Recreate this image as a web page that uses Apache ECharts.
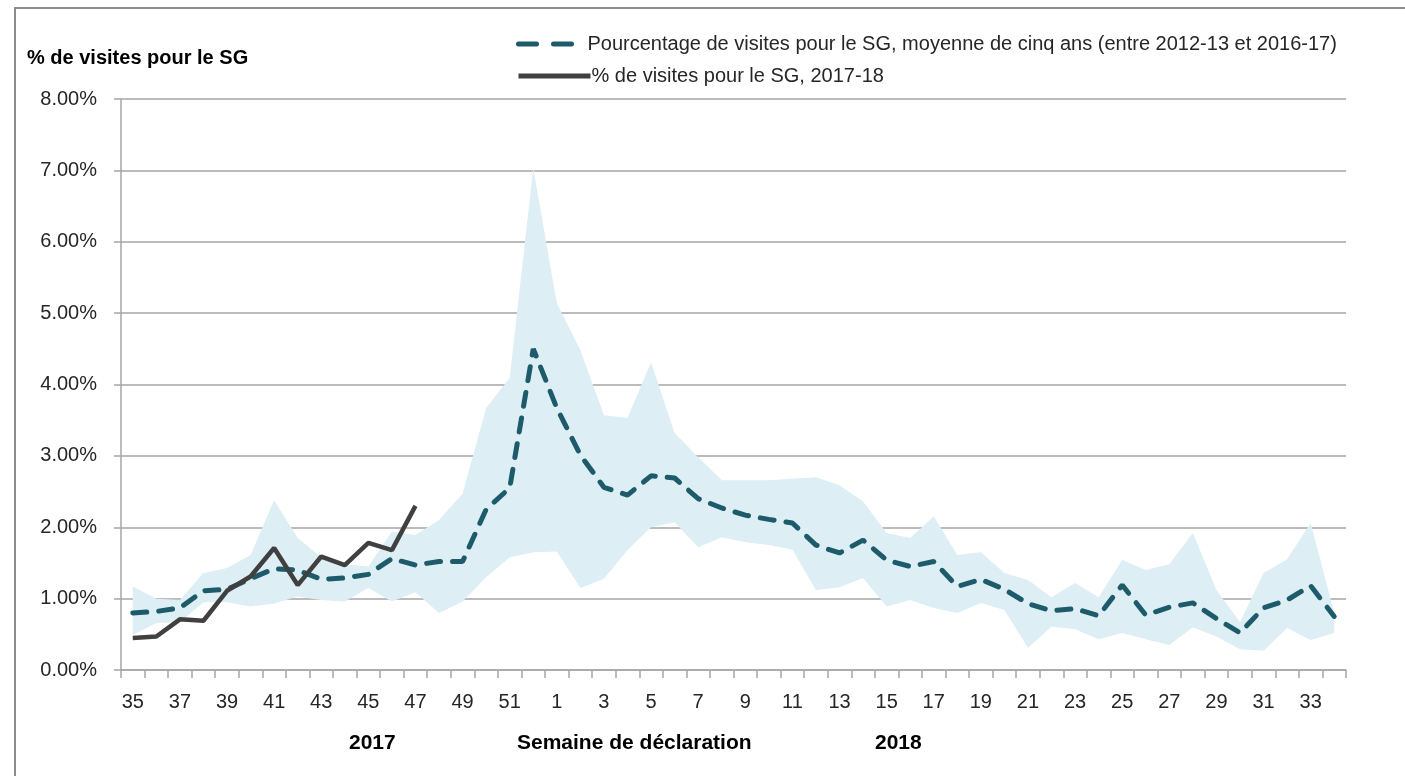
<!DOCTYPE html>
<html>
<head>
<meta charset="utf-8">
<script src="https://cdn.jsdelivr.net/npm/echarts@6/dist/echarts.min.js"></script>
<style>
html,body{margin:0;padding:0;background:#fff;}
#chart{width:1405px;height:776px;}
</style>
</head>
<body>
<div id="chart"></div>
<script>
const weeks = ['35','36','37','38','39','40','41','42','43','44','45','46','47','48','49','50','51','52',
  '1','2','3','4','5','6','7','8','9','10','11','12','13','14','15','16','17','18','19','20','21','22','23','24','25','26','27','28','29','30','31','32','33','34'];

const avg5 = [0.80,0.82,0.87,1.11,1.13,1.28,1.42,1.40,1.27,1.29,1.34,1.56,1.47,1.52,1.52,2.25,2.55,4.50,
  3.67,3.01,2.56,2.45,2.72,2.69,2.40,2.27,2.17,2.11,2.06,1.75,1.64,1.82,1.54,1.45,1.52,1.17,1.27,1.13,0.93,0.83,0.86,0.76,1.19,0.77,0.88,0.94,0.72,0.52,0.87,0.98,1.18,0.75];

const bandHigh = [1.17,1.00,0.98,1.36,1.43,1.61,2.38,1.85,1.58,1.48,1.45,1.94,1.89,2.10,2.47,3.67,4.09,7.03,
  5.14,4.48,3.57,3.53,4.31,3.32,2.98,2.66,2.66,2.66,2.68,2.70,2.59,2.36,1.92,1.85,2.15,1.61,1.65,1.36,1.26,1.02,1.22,1.02,1.54,1.40,1.48,1.92,1.12,0.67,1.36,1.55,2.06,0.80];

const bandLow = [0.49,0.66,0.67,0.95,0.95,0.89,0.93,1.03,0.98,0.96,1.15,0.96,1.09,0.80,0.96,1.30,1.58,1.65,
  1.66,1.15,1.28,1.68,2.00,2.07,1.72,1.86,1.79,1.75,1.69,1.12,1.16,1.29,0.89,0.98,0.87,0.80,0.94,0.84,0.31,0.61,0.57,0.43,0.52,0.43,0.35,0.60,0.47,0.29,0.27,0.59,0.42,0.52];

const cur = [0.45,0.47,0.71,0.69,1.11,1.31,1.71,1.19,1.59,1.47,1.78,1.68,2.30];

const yTicks = [0,1,2,3,4,5,6,7,8];

const nameAvg = 'Pourcentage de visites pour le SG, moyenne de cinq ans (entre 2012-13 et 2016-17)';
const nameCur = '% de visites pour le SG, 2017-18';

const FONT = '"Liberation Sans", Arial, sans-serif';
const bandDiff = bandHigh.map((v,i)=> +(v - bandLow[i]).toFixed(2));

const chart = echarts.init(document.getElementById('chart'));
chart.setOption({
  animation:false,
  backgroundColor:'#fff',
  textStyle:{fontFamily:FONT},
  grid:{left:121, right:59, top:99, bottom:106},
  legend:[
    {data:[{name:nameAvg}], left:511, top:29, itemWidth:58, itemHeight:20, itemGap:17,
     itemStyle:{opacity:0}, lineStyle:{type:[18,17], width:5, cap:'round'},
     textStyle:{fontSize:20, color:'#262626', fontFamily:FONT, padding:[0,0,0,6]}},
    {data:[{name:nameCur}], left:511, top:61, itemWidth:72, itemHeight:20, itemGap:2,
     itemStyle:{opacity:0}, lineStyle:{width:5},
     textStyle:{fontSize:20, color:'#262626', fontFamily:FONT, padding:[0,0,0,-4]}}
  ],
  graphic:[
    {type:'rect', shape:{x:15, y:8, width:1400, height:800}, style:{fill:'none', stroke:'#8c8c8c', lineWidth:2}, silent:true},
    {type:'text', left:27, top:48, style:{text:'% de visites pour le SG', font:'bold 20px '+FONT, fill:'#000'}},
    {type:'text', left:349, top:733, style:{text:'2017', font:'bold 21px '+FONT, fill:'#000'}},
    {type:'text', left:517, top:733, style:{text:'Semaine de déclaration', font:'bold 21px '+FONT, fill:'#000'}},
    {type:'text', left:875, top:733, style:{text:'2018', font:'bold 21px '+FONT, fill:'#000'}}
  ],
  xAxis:{
    type:'category', data:weeks, boundaryGap:true,
    axisLine:{lineStyle:{color:'#a6a6a6', width:1.5}},
    axisTick:{show:true, interval:0, length:8, lineStyle:{color:'#a6a6a6', width:1.5}},
    axisLabel:{interval:1, fontSize:20, color:'#262626', margin:22, fontFamily:FONT}
  },
  yAxis:{
    type:'value', min:yTicks[0], max:yTicks[yTicks.length-1], interval:1,
    axisLine:{show:true, lineStyle:{color:'#a6a6a6', width:1.5}},
    axisTick:{show:true, length:7, lineStyle:{color:'#a6a6a6', width:1.5}},
    splitLine:{show:true, lineStyle:{color:'#a6a6a6', width:1.5}},
    axisLabel:{fontSize:20, color:'#262626', margin:24, formatter:v=>v.toFixed(2)+'%', fontFamily:FONT}
  },
  series:[
    {name:'bandLow', type:'line', stack:'band', data:bandLow, symbol:'none', lineStyle:{opacity:0}, silent:true, z:1},
    {name:'bandRange', type:'line', stack:'band', data:bandDiff, symbol:'none', lineStyle:{opacity:0},
     areaStyle:{color:'#ddeef5', opacity:1}, silent:true, z:1},
    {name:nameAvg, type:'line', data:avg5, symbol:'none', z:3,
     lineStyle:{color:'#1d5a6a', width:5, type:[14,12], cap:'round'}, itemStyle:{color:'#1d5a6a'}},
    {name:nameCur, type:'line', data:cur, symbol:'none', z:4,
     lineStyle:{color:'#404040', width:4.5}, itemStyle:{color:'#404040'}}
  ]
});
</script>
</body>
</html>
